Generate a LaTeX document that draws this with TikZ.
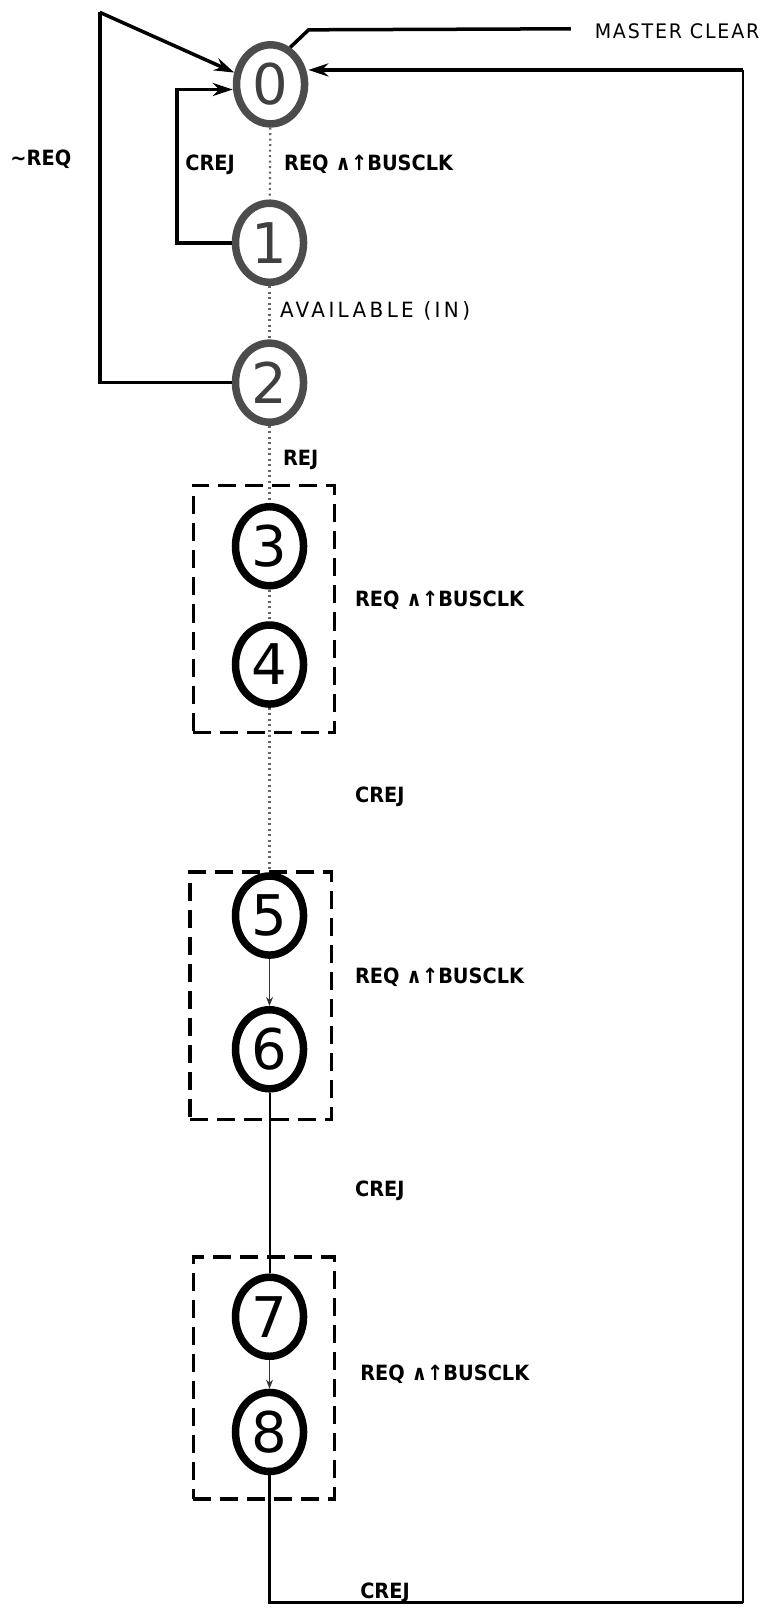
\documentclass[tikz,border=0pt]{standalone}
\usepackage{fontspec}
\setmainfont{DejaVu Sans}
\newfontfamily\labfont{DejaVu Sans}[FakeStretch=0.92]
\newfontfamily\widefont{DejaVu Sans}[FakeStretch=0.95,LetterSpace=9]
\newfontfamily\widerfont{DejaVu Sans}[FakeStretch=0.95,LetterSpace=16]
\usetikzlibrary{shapes.geometric,arrows.meta}
\tikzset{
  st/.style={ellipse,draw=black,line width=7.5pt,minimum width=68pt,minimum height=79pt,inner sep=0pt,font=\fontsize{56}{56}\selectfont},
  fst/.style={st,draw=black!70,text=black!75},
  lab/.style={anchor=west,inner sep=0pt,font=\labfont\bfseries\fontsize{21}{21}\selectfont},
  labn/.style={anchor=west,inner sep=0pt,font=\widefont\fontsize{20}{20}\selectfont},
  labw/.style={anchor=west,inner sep=0pt,font=\widerfont\fontsize{21}{21}\selectfont},
  wire/.style={line width=3.5pt,line join=miter},
  thin/.style={line width=2pt},
  big/.style={-{Stealth[length=20pt,width=13pt]}},
  trans/.style={line width=1.6pt,black!80,-{Stealth[length=9pt,width=7pt]}},
  ftrans/.style={line width=2.2pt,black!60,dash pattern=on 2pt off 3.5pt},
  grp/.style={draw,line width=3.5pt,dash pattern=on 18pt off 9pt}
}
\begin{document}
\begin{tikzpicture}[x=1.028pt,y=-1.028pt]
\useasboundingbox (0,0) rectangle (744,1568);
% states
\node[fst] (n0) at (263,82) {0};
\node[fst] (n1) at (262,236) {1};
\node[fst] (n2) at (262,372) {2};
\node[st] (n3) at (262,531) {3};
\node[st] (n4) at (262,646) {4};
\node[st] (n5) at (262,890) {5};
\node[st] (n6) at (262,1020) {6};
\node[st] (n7) at (262,1280) {7};
\node[st] (n8) at (262,1392) {8};
% dashed groups
\node[grp,minimum width=141pt,minimum height=247pt] (g1) at (256.5,592) {};
\node[grp,minimum width=141pt,minimum height=247pt] (g2) at (253.5,968) {};
\node[grp,minimum width=141pt,minimum height=242pt] (g3) at (256.5,1339.5) {};
% vertical transitions
\draw[ftrans] (n0) -- (n1);
\draw[ftrans] (n1) -- (n2);
\draw[ftrans] (n2) -- (n3);
\draw[ftrans] (n3) -- (n4);
\draw[ftrans] (n4) -- (n5);
\draw[trans] (n5) -- (n6);
\draw[line width=2pt] (n6) -- (n7);
\draw[trans] (n7) -- (n8);
% coordinates
\coordinate (tl) at (97,12);
\coordinate (cl) at (172,87);
\coordinate (mc) at (555,28);
\coordinate (mcb) at (300,29);
\coordinate (tr) at (722,68);
\coordinate (br) at (722,1558);
% loops
\draw[wire,big] (tl) -- (n0.162);
\draw[wire] (n2.west) -| (tl);
\draw[wire,big] (n1.west) -| (cl) -- (cl -| n0.west);
\draw[wire] (mc) -- (mcb) -- (n0.62);
\draw[wire,big] (tr) -- (tr -| n0.east);
\draw[thin] (tr) -- (br);
\draw[line width=3pt] (br) -| (n8.south);
% labels
\node[labn] (lmc) at (578,30) {MASTER CLEAR};
\node[lab] (lnreq) at (10,155) {\textasciitilde REQ};
\node[lab] (lc0) at (180,160) {CREJ};
\node[lab] (lr0) at (276,160) {REQ ∧↑BUSCLK};
\node[labw] (lav) at (272,302) {AVAILABLE (IN)};
\node[lab] (lrej) at (275,447) {REJ};
\node[lab] (lr1) at (345,583) {REQ ∧↑BUSCLK};
\node[lab] (lc1) at (345,775) {CREJ};
\node[lab] (lr2) at (345,950) {REQ ∧↑BUSCLK};
\node[lab] (lc2) at (345,1158) {CREJ};
\node[lab] (lr3) at (350,1336) {REQ ∧↑BUSCLK};
\node[lab] (lc3) at (350,1548) {CREJ};
\end{tikzpicture}
\end{document}
